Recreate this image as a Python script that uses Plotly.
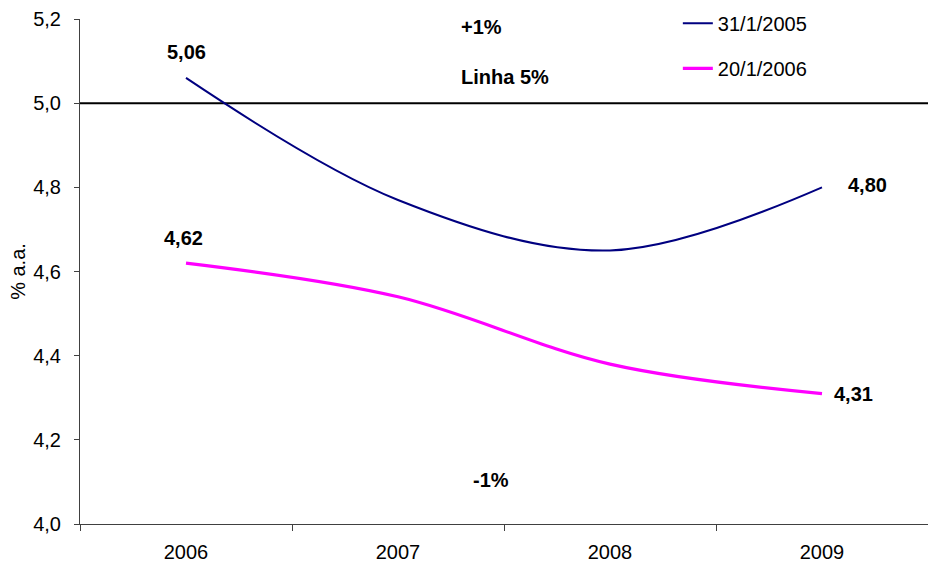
import plotly.graph_objects as go

# Curva de juros (% a.a.) por ano de vencimento
anos = ["2006", "2007", "2008", "2009"]
curva_2005 = [5.06, 4.77, 4.65, 4.80]
curva_2006 = [4.62, 4.54, 4.38, 4.31]
nomes = ["31/1/2005", "20/1/2006"]
cores = ["#000080", "#FF00FF"]
larguras = [2, 3.2]
linha_ref = 5.0
faixa_textos = ["+1%", "Linha 5%", "-1%"]

FONTE = "Liberation Sans, Arial, sans-serif"
TAM = 20


def fmt(v):
    return f"{v:.2f}".replace(".", ",")


fig = go.Figure()
for i, (nome, serie) in enumerate(zip(nomes, [curva_2005, curva_2006])):
    fig.add_trace(go.Scatter(
        x=anos, y=serie, name=nome, mode="lines",
        line=dict(color=cores[i], width=larguras[i], shape="spline", smoothing=1.0),
        legendgroup=nome, hoverinfo="skip",
    ))

# linha de referência de 5%
fig.add_shape(type="line", xref="paper", x0=0, x1=1, yref="y", y0=linha_ref, y1=linha_ref,
              line=dict(color="black", width=2), layer="below")

rotulo_font = dict(family=FONTE, size=TAM, color="black")
ult = len(anos) - 1
annots = [
    dict(x=0, y=curva_2005[0], text=fmt(curva_2005[0]), yshift=26, xshift=0, xanchor="center"),
    dict(x=0, y=curva_2006[0], text=fmt(curva_2006[0]), yshift=25, xshift=-3, xanchor="center"),
    dict(x=ult, y=curva_2005[-1], text=fmt(curva_2005[-1]), xshift=24, yshift=2, xanchor="left"),
    dict(x=ult, y=curva_2006[-1], text=fmt(curva_2006[-1]), xshift=10, yshift=0, xanchor="left"),
]
for a in annots:
    fig.add_annotation(showarrow=False, font=rotulo_font, yanchor="middle",
                       text=f"<b>{a['text']}</b>", xref="x", yref="y", x=a["x"], y=a["y"],
                       xshift=a["xshift"], yshift=a["yshift"], xanchor=a["xanchor"])

# textos das faixas (+1%, Linha 5%, -1%)
for txt, xp, yp in zip(faixa_textos, [0.473, 0.501, 0.485], [5.181, 5.062, 4.105]):
    fig.add_annotation(showarrow=False, font=rotulo_font, text=f"<b>{txt}</b>",
                       xref="paper", yref="y", x=xp, y=yp, xanchor="center", yanchor="middle")

fig.update_layout(
    width=928, height=564,
    margin=dict(l=80, r=0, t=19, b=40, autoexpand=False),
    paper_bgcolor="white", plot_bgcolor="white",
    separators=", ",
    font=dict(family=FONTE, size=TAM, color="black"),
    showlegend=True,
    legend=dict(x=0.705, y=1.03, xanchor="left", yanchor="top",
                bgcolor="rgba(0,0,0,0)", font=dict(family=FONTE, size=TAM),
                tracegroupgap=16, itemwidth=30),
)
fig.update_xaxes(
    type="category", range=[-0.5, 3.5], showgrid=False,
    showline=True, linecolor="#404040", linewidth=1,
    ticks="outside", tickson="boundaries", ticklen=6, tickcolor="#404040",
    tickfont=dict(family=FONTE, size=TAM), ticklabelstandoff=10,
)
fig.update_yaxes(
    range=[4.0, 5.2], dtick=0.2, tick0=4.0, tickformat=".1f", showgrid=False,
    showline=True, linecolor="#404040", linewidth=1,
    ticks="outside", ticklen=5, tickcolor="#404040",
    tickfont=dict(family=FONTE, size=TAM), ticklabelstandoff=9,
    title=dict(text="% a.a.", font=dict(family=FONTE, size=TAM), standoff=2),
    zeroline=False,
)

fig.write_html("out.html")
